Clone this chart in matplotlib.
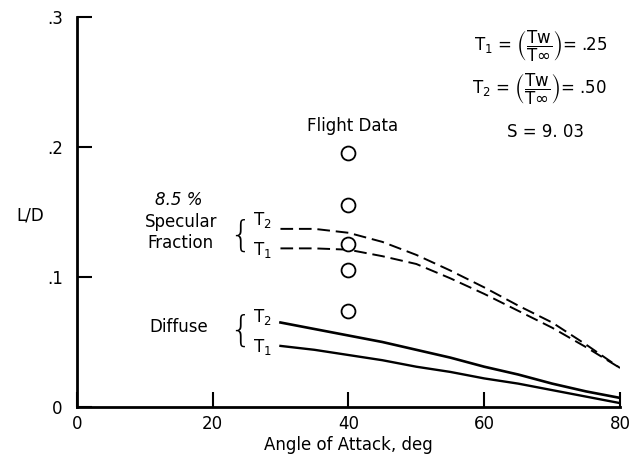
import numpy as np
import matplotlib
matplotlib.use("Agg")
import matplotlib.pyplot as plt

plt.rcParams['font.family'] = ['DejaVu Sans']
plt.rcParams['mathtext.fontset'] = 'dejavusans'

# curves (angle of attack, deg -> L/D)
alpha = [30, 35, 40, 45, 50, 55, 60, 65, 70, 75, 80]
spec_t2 = [0.137, 0.137, 0.134, 0.127, 0.117, 0.105, 0.092, 0.078, 0.065, 0.048, 0.030]
spec_t1 = [0.122, 0.122, 0.121, 0.116, 0.110, 0.099, 0.087, 0.074, 0.061, 0.046, 0.030]
diff_t2 = [0.065, 0.060, 0.055, 0.050, 0.044, 0.038, 0.031, 0.025, 0.018, 0.012, 0.007]
diff_t1 = [0.047, 0.044, 0.040, 0.036, 0.031, 0.027, 0.022, 0.018, 0.013, 0.008, 0.003]

# flight data
flight_alpha = [40, 40, 40, 40, 40]
flight_ld = [0.195, 0.155, 0.125, 0.105, 0.074]

fig = plt.figure(figsize=(6.34, 4.70), dpi=100)
ax = fig.add_axes([0.121, 0.134, 0.857, 0.830])

ax.plot(alpha, spec_t2, 'k--', lw=1.4, dashes=(6.5, 3))
ax.plot(alpha, spec_t1, 'k--', lw=1.4, dashes=(6.5, 3))
ax.plot(alpha, diff_t2, 'k-', lw=1.9)
ax.plot(alpha, diff_t1, 'k-', lw=1.7)
ax.plot(flight_alpha, flight_ld, 'o', mfc='white', mec='black', ms=10, mew=1.3, ls='none')

ax.set_xlim(0, 80)
ax.set_ylim(0, 0.3)
ax.set_xticks([0, 20, 40, 60, 80])
ax.set_xticklabels(['0', '20', '40', '60', '80'])
ax.set_yticks([0, 0.1, 0.2, 0.3])
ax.set_yticklabels(['0', '.1', '.2', '.3'])
ax.tick_params(direction='in', length=11, width=1.5, labelsize=12)
ax.tick_params(axis='y', pad=10)
ax.tick_params(axis='x', pad=6)
ax.spines['top'].set_visible(False)
ax.spines['right'].set_visible(False)
ax.spines['left'].set_linewidth(2)
ax.spines['bottom'].set_linewidth(2)

ax.set_xlabel('Angle of Attack, deg', fontsize=12, labelpad=2)
ax.text(-0.085, 0.49, 'L/D', transform=ax.transAxes, fontsize=12, ha='center', va='center')

fs = 12
ax.text(40.6, 0.216, 'Flight Data', fontsize=fs, ha='center', va='center')
ax.text(15.0, 0.159, '8.5 %', fontsize=fs, ha='center', va='center', style='italic')
ax.text(15.3, 0.142, 'Specular', fontsize=fs, ha='center', va='center')
ax.text(15.3, 0.126, 'Fraction', fontsize=fs, ha='center', va='center')
ax.text(24.0, 0.132, '{', fontsize=25, ha='center', va='center', fontweight='light')
ax.text(27.3, 0.144, r'T$_2$', fontsize=fs, ha='center', va='center')
ax.text(27.3, 0.121, r'T$_1$', fontsize=fs, ha='center', va='center')

ax.text(15.0, 0.0615, 'Diffuse', fontsize=fs, ha='center', va='center')
ax.text(24.0, 0.059, '{', fontsize=25, ha='center', va='center', fontweight='light')
ax.text(27.3, 0.069, r'T$_2$', fontsize=fs, ha='center', va='center')
ax.text(27.3, 0.046, r'T$_1$', fontsize=fs, ha='center', va='center')

ax.text(78.1, 0.277, r'T$_1$ = $\left(\dfrac{\mathrm{Tw}}{\mathrm{T}\infty}\right)$= .25',
        fontsize=fs, ha='right', va='center')
ax.text(78.1, 0.244, r'T$_2$ = $\left(\dfrac{\mathrm{Tw}}{\mathrm{T}\infty}\right)$= .50',
        fontsize=fs, ha='right', va='center')
ax.text(69.0, 0.2115, 'S = 9. 03', fontsize=fs, ha='center', va='center')

plt.savefig('out.png', dpi=100)
